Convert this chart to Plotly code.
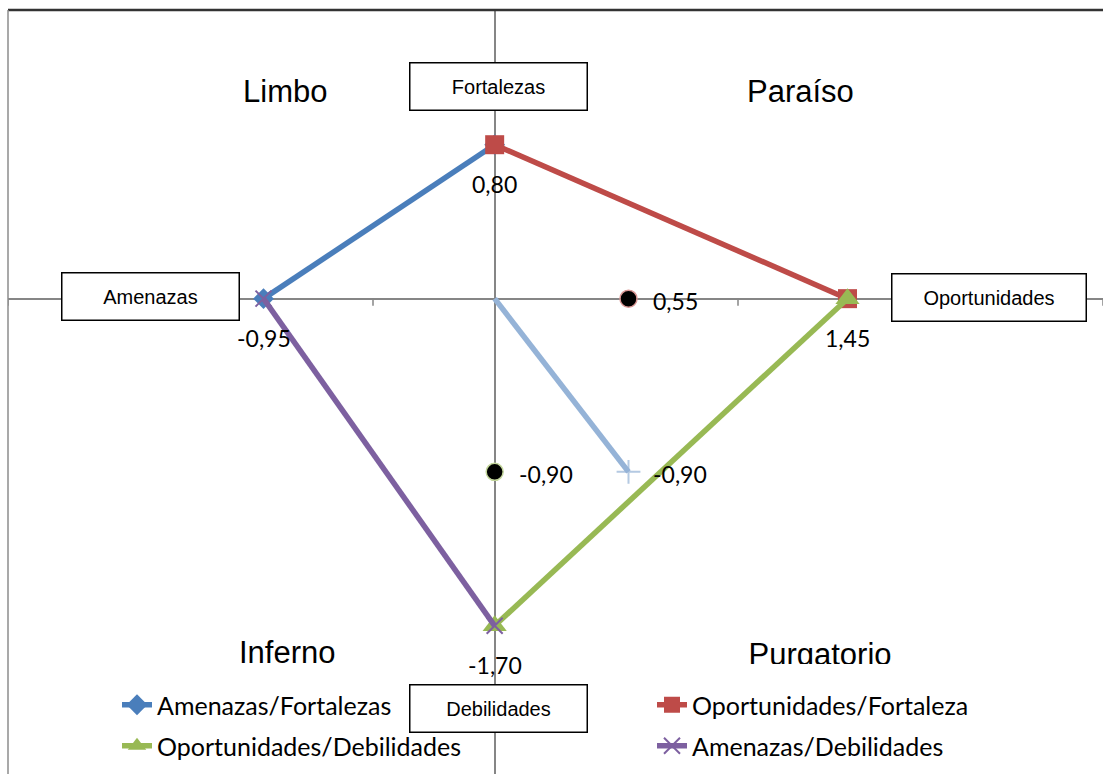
import plotly.graph_objects as go

# ---- data -------------------------------------------------------------
AMENAZAS = -0.95       # x of the threats factor
OPORTUNIDADES = 1.45   # x of the opportunities factor
FORTALEZAS = 0.80      # y of the strengths factor
DEBILIDADES = -1.70    # y of the weaknesses factor

# resultant point and its projections on the axes
RES_X = 0.55
RES_Y = -0.90

SERIES_NAMES = ["Amenazas/Fortalezas", "Oportunidades/Fortaleza",
                "Oportunidades/Debilidades", "Amenazas/Debilidades"]
SERIES_X = [[AMENAZAS, 0.0], [0.0, OPORTUNIDADES],
            [OPORTUNIDADES, 0.0], [AMENAZAS, 0.0]]
SERIES_Y = [[0.0, FORTALEZAS], [FORTALEZAS, 0.0],
            [0.0, DEBILIDADES], [0.0, DEBILIDADES]]

XTICKS = [-2.0, -0.5, 1.0, 2.5]

QUADRANTS = ["Limbo", "Paraíso", "Inferno", "Purgatorio"]
FACTORS = ["Fortalezas", "Amenazas", "Oportunidades", "Debilidades"]
TITLE = "Mapa de Posicionamiento Estratégico"

# ---- styling ----------------------------------------------------------
W, H = 1103, 774
ML, MT = 8, 10
PW, PH = W - ML, H - MT

COLORS = ["#4A7EBB", "#BE4B48", "#98B954", "#7D60A0"]
SYMBOLS = ["diamond", "square", "triangle-up", "x-thin"]
SIZES = [16, 19, 21, 16]
LABEL_FONT = dict(family="Lato, Open Sans, sans-serif", size=23, color="black")
LEGEND_FONT = dict(family="Lato, Open Sans, sans-serif", size=25, color="black")
ARIAL = "Liberation Sans, Arial, sans-serif"


def px_x(p):
    return (p - ML) / PW


def px_y(p):
    return (H - p) / PH


def fmt(v):
    return f"{v:.2f}".replace(".", ",")


fig = go.Figure()

for i, name in enumerate(SERIES_NAMES):
    mk = dict(symbol=SYMBOLS[i], size=SIZES[i], color=COLORS[i])
    if SYMBOLS[i] == "x-thin":
        mk["line"] = dict(color=COLORS[i], width=2)
    fig.add_trace(go.Scatter(
        x=SERIES_X[i], y=SERIES_Y[i], mode="lines+markers", name=name,
        line=dict(color=COLORS[i], width=5.5), marker=mk,
        legend="legend" if i < 2 else "legend2",
    ))

# vector from the origin to the resultant point
fig.add_trace(go.Scatter(
    x=[0.0, RES_X], y=[0.0, RES_Y], mode="lines+markers", showlegend=False,
    line=dict(color="#95B3D7", width=5.5),
    marker=dict(symbol="cross-thin", size=[0, 17],
                line=dict(color="#95B3D7", width=2)),
))

# projections of the resultant on each axis
fig.add_trace(go.Scatter(
    x=[RES_X, 0.0], y=[0.0, RES_Y], mode="markers", showlegend=False,
    marker=dict(symbol="circle", size=17, color="black",
                line=dict(color=["#D99694", "#C3D69B"], width=1.5)),
))

ann = []

# value labels
for x, y, txt in [(0.0, FORTALEZAS, fmt(FORTALEZAS)),
                  (AMENAZAS, 0.0, fmt(AMENAZAS)),
                  (OPORTUNIDADES, 0.0, fmt(OPORTUNIDADES)),
                  (0.0, DEBILIDADES, fmt(DEBILIDADES))]:
    ann.append(dict(x=x, y=y, xref="x", yref="y", text=txt, showarrow=False,
                    xanchor="center", yanchor="middle", yshift=-39,
                    font=LABEL_FONT))
for x, y, txt in [(RES_X, 0.0, fmt(RES_X)),
                  (0.0, RES_Y, fmt(RES_Y)),
                  (RES_X, RES_Y, fmt(RES_Y))]:
    ann.append(dict(x=x, y=y, xref="x", yref="y", text=txt, showarrow=False,
                    xanchor="left", yanchor="middle", xshift=22, yshift=-2,
                    font=LABEL_FONT))

# factor boxes
for txt, cx, cy, w in [(FACTORS[0], 498, 87, 174), (FACTORS[1], 150, 296, 174),
                       (FACTORS[2], 989, 297, 191), (FACTORS[3], 498, 708, 174)]:
    ann.append(dict(x=px_x(cx), y=px_y(cy), xref="paper", yref="paper",
                    text=txt, showarrow=False, xanchor="center",
                    yanchor="middle", width=w, height=44,
                    bgcolor="white", bordercolor="black", borderwidth=1.5,
                    font=dict(family=ARIAL, size=20, color="black")))

# quadrant names
QFONT = dict(family=ARIAL, size=31, color="black")
for txt, cx, cy in [(QUADRANTS[0], 285, 91), (QUADRANTS[1], 800, 91),
                    (QUADRANTS[2], 287, 652)]:
    ann.append(dict(x=px_x(cx), y=px_y(cy), xref="paper", yref="paper",
                    text=txt, showarrow=False, xanchor="center",
                    yanchor="middle", font=QFONT))
# lower-right name sits in a box that is cut short at the bottom
ann.append(dict(x=px_x(820), y=px_y(636), xref="paper", yref="paper",
                text=QUADRANTS[3], showarrow=False, xanchor="center",
                yanchor="top", valign="top", width=170, height=27,
                borderpad=0, font=QFONT))

# title, mostly above the visible area
ann.append(dict(x=px_x(553), y=px_y(0), xref="paper", yref="paper",
                text=f"<b>{TITLE}</b>", showarrow=False, xanchor="center",
                yanchor="bottom", font=dict(family=ARIAL, size=32, color="black")))

shapes = []
# tick marks below the horizontal axis
for t in XTICKS:
    shapes.append(dict(type="line", xref="x", yref="y", ysizemode="pixel",
                       yanchor=0, x0=t, x1=t, y0=0, y1=-7,
                       line=dict(color="#868686", width=1.5)))
# chart frame
shapes.append(dict(type="line", xref="paper", yref="paper", x0=0, x1=1,
                   y0=1, y1=1, line=dict(color="#333333", width=2.5)))
shapes.append(dict(type="line", xref="paper", yref="paper", x0=0, x1=0,
                   y0=0, y1=1, line=dict(color="#8C8C8C", width=1.5)))

axis_common = dict(showgrid=False, zeroline=True, zerolinecolor="#868686",
                   zerolinewidth=1.5, showticklabels=False, ticks="",
                   showline=False, fixedrange=True)

legend_common = dict(orientation="h", xanchor="left", yanchor="middle",
                     entrywidth=490, entrywidthmode="pixels",
                     bgcolor="rgba(0,0,0,0)", borderwidth=0,
                     font=LEGEND_FONT, itemclick=False)

fig.update_layout(
    width=W, height=H,
    margin=dict(l=ML, r=0, t=MT, b=0, pad=0, autoexpand=False),
    paper_bgcolor="white", plot_bgcolor="white",
    xaxis=dict(range=[-2.0, 2.5], **axis_common),
    yaxis=dict(range=[-2.47, 1.5], **axis_common),
    annotations=ann,
    shapes=shapes,
    legend=dict(x=px_x(117), y=px_y(705), **legend_common),
    legend2=dict(x=px_x(117), y=px_y(746), **legend_common),
    showlegend=True,
)

fig.write_html("out.html")
